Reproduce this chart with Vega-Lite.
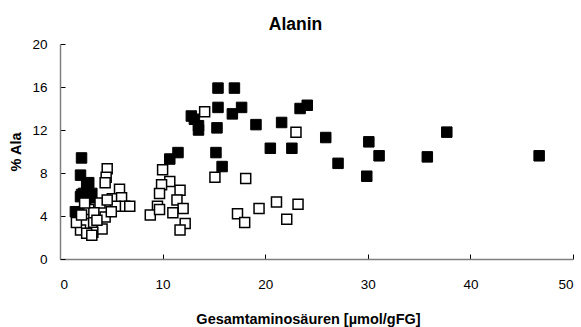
{
  "$schema": "https://vega.github.io/schema/vega-lite/v6.json",
  "autosize": "none",
  "width": 513,
  "height": 215,
  "padding": {"left": 60, "top": 44, "right": 8, "bottom": 68},
  "background": "white",
  "config": {"view": {"stroke": null}, "font": "Liberation Sans"},
  "title": {"text": "Alanin", "anchor": "middle", "dx": -21, "fontSize": 17.5, "font": "Liberation Sans", "fontWeight": "bold", "offset": 4, "color": "black"},
  "data": {"values": [
    {"x": 1.5, "y": 4.4, "g": "f"}, {"x": 2.0, "y": 5.8, "g": "f"}, {"x": 2.1, "y": 6.0, "g": "f"}, {"x": 2.0, "y": 7.8, "g": "f"}, {"x": 2.1, "y": 9.4, "g": "f"}, {"x": 2.6, "y": 6.9, "g": "f"}, {"x": 2.8, "y": 7.1, "g": "f"}, {"x": 2.9, "y": 5.7, "g": "f"}, {"x": 3.1, "y": 6.1, "g": "f"}, {"x": 2.3, "y": 6.1, "g": "f"}, {"x": 2.5, "y": 5.0, "g": "f"},
    {"x": 10.7, "y": 9.3, "g": "f"}, {"x": 11.5, "y": 9.9, "g": "f"},
    {"x": 12.8, "y": 13.3, "g": "f"}, {"x": 13.1, "y": 13.0, "g": "f"}, {"x": 13.5, "y": 12.4, "g": "f"}, {"x": 13.5, "y": 12.0, "g": "f"},
    {"x": 15.4, "y": 15.9, "g": "f"}, {"x": 17.0, "y": 15.9, "g": "f"}, {"x": 15.4, "y": 14.1, "g": "f"}, {"x": 15.3, "y": 12.2, "g": "f"}, {"x": 15.2, "y": 9.9, "g": "f"}, {"x": 15.8, "y": 8.6, "g": "f"}, {"x": 16.8, "y": 13.5, "g": "f"}, {"x": 17.7, "y": 14.1, "g": "f"},
    {"x": 19.1, "y": 12.5, "g": "f"}, {"x": 20.5, "y": 10.3, "g": "f"}, {"x": 21.6, "y": 12.7, "g": "f"}, {"x": 22.6, "y": 10.3, "g": "f"}, {"x": 23.4, "y": 14.0, "g": "f"}, {"x": 24.1, "y": 14.3, "g": "f"}, {"x": 25.9, "y": 11.3, "g": "f"}, {"x": 27.1, "y": 8.9, "g": "f"}, {"x": 29.9, "y": 7.7, "g": "f"}, {"x": 30.1, "y": 10.9, "g": "f"}, {"x": 31.1, "y": 9.6, "g": "f"}, {"x": 35.8, "y": 9.5, "g": "f"}, {"x": 37.7, "y": 11.8, "g": "f"}, {"x": 46.7, "y": 9.6, "g": "f"},
    {"x": 4.6, "y": 8.4, "g": "o"}, {"x": 4.5, "y": 7.6, "g": "o"}, {"x": 4.4, "y": 7.1, "g": "o"}, {"x": 5.8, "y": 6.5, "g": "o"}, {"x": 5.1, "y": 5.6, "g": "o"}, {"x": 6.0, "y": 5.7, "g": "o"}, {"x": 6.3, "y": 4.9, "g": "o"}, {"x": 6.8, "y": 4.9, "g": "o"}, {"x": 5.4, "y": 4.9, "g": "o"}, {"x": 3.9, "y": 5.2, "g": "o"}, {"x": 2.8, "y": 4.6, "g": "o"}, {"x": 4.4, "y": 3.9, "g": "o"}, {"x": 3.3, "y": 4.3, "g": "o"}, {"x": 4.1, "y": 2.8, "g": "o"}, {"x": 3.2, "y": 2.5, "g": "o"}, {"x": 2.3, "y": 3.3, "g": "o"}, {"x": 2.0, "y": 2.7, "g": "o"}, {"x": 2.6, "y": 2.4, "g": "o"}, {"x": 3.1, "y": 2.2, "g": "o"}, {"x": 1.6, "y": 3.4, "g": "o"}, {"x": 3.6, "y": 3.6, "g": "o"}, {"x": 5.0, "y": 4.4, "g": "o"}, {"x": 4.6, "y": 5.5, "g": "o"}, {"x": 2.4, "y": 5.2, "g": "o"}, {"x": 2.1, "y": 4.1, "g": "o"},
    {"x": 10.0, "y": 8.3, "g": "o"}, {"x": 10.7, "y": 7.2, "g": "o"}, {"x": 9.9, "y": 6.9, "g": "o"}, {"x": 11.7, "y": 6.4, "g": "o"}, {"x": 9.7, "y": 6.1, "g": "o"}, {"x": 11.4, "y": 5.5, "g": "o"}, {"x": 12.0, "y": 4.7, "g": "o"}, {"x": 9.5, "y": 4.9, "g": "o"}, {"x": 11.0, "y": 4.3, "g": "o"}, {"x": 8.8, "y": 4.1, "g": "o"}, {"x": 12.2, "y": 3.3, "g": "o"}, {"x": 11.7, "y": 2.7, "g": "o"}, {"x": 9.7, "y": 4.6, "g": "o"},
    {"x": 14.1, "y": 13.7, "g": "o"}, {"x": 15.1, "y": 7.6, "g": "o"}, {"x": 18.1, "y": 7.5, "g": "o"}, {"x": 17.3, "y": 4.2, "g": "o"}, {"x": 18.0, "y": 3.4, "g": "o"}, {"x": 19.4, "y": 4.7, "g": "o"}, {"x": 21.1, "y": 5.3, "g": "o"}, {"x": 22.1, "y": 3.7, "g": "o"}, {"x": 23.2, "y": 5.1, "g": "o"}, {"x": 23.0, "y": 11.8, "g": "o"}
  ]},
  "encoding": {
    "x": {"field": "x", "type": "quantitative", "scale": {"domain": [0, 50], "nice": false, "zero": false},
      "axis": {"values": [0, 10, 20, 30, 40, 50], "grid": false, "tickSize": -5, "tickColor": "black", "domainColor": "#808080", "domainWidth": 1.5, "labelPadding": 23, "labelFontSize": 13.5, "labelColor": "black", "labelFont": "Liberation Sans",
        "title": "Gesamtaminosäuren [µmol/gFG]", "titleFontSize": 14.5, "titleFont": "Liberation Sans", "titleFontWeight": "bold", "titleColor": "black", "titleX": 248, "titleY": 64, "titleBaseline": "alphabetic"}},
    "y": {"field": "y", "type": "quantitative", "scale": {"domain": [0, 20], "nice": false},
      "axis": {"values": [0, 4, 8, 12, 16, 20], "grid": false, "tickSize": -5, "tickColor": "black", "domainColor": "#808080", "domainWidth": 1.5, "labelPadding": 18, "labelFontSize": 13.5, "labelColor": "black", "labelFont": "Liberation Sans",
        "title": "% Ala", "titleFontSize": 14.5, "titleFont": "Liberation Sans", "titleFontWeight": "bold", "titleColor": "black", "titleX": -44, "titleAngle": 270, "titleBaseline": "middle"}}
  },
  "layer": [
    {"transform": [{"filter": "datum.g == 'f'"}], "mark": {"type": "point", "shape": "square", "size": 110, "filled": true, "fill": "black", "stroke": "black", "strokeWidth": 1, "opacity": 1}},
    {"transform": [{"filter": "datum.g == 'o'"}], "mark": {"type": "point", "shape": "square", "size": 100, "filled": false, "fill": "white", "fillOpacity": 1, "stroke": "black", "strokeWidth": 1.5, "opacity": 1}}
  ]
}
